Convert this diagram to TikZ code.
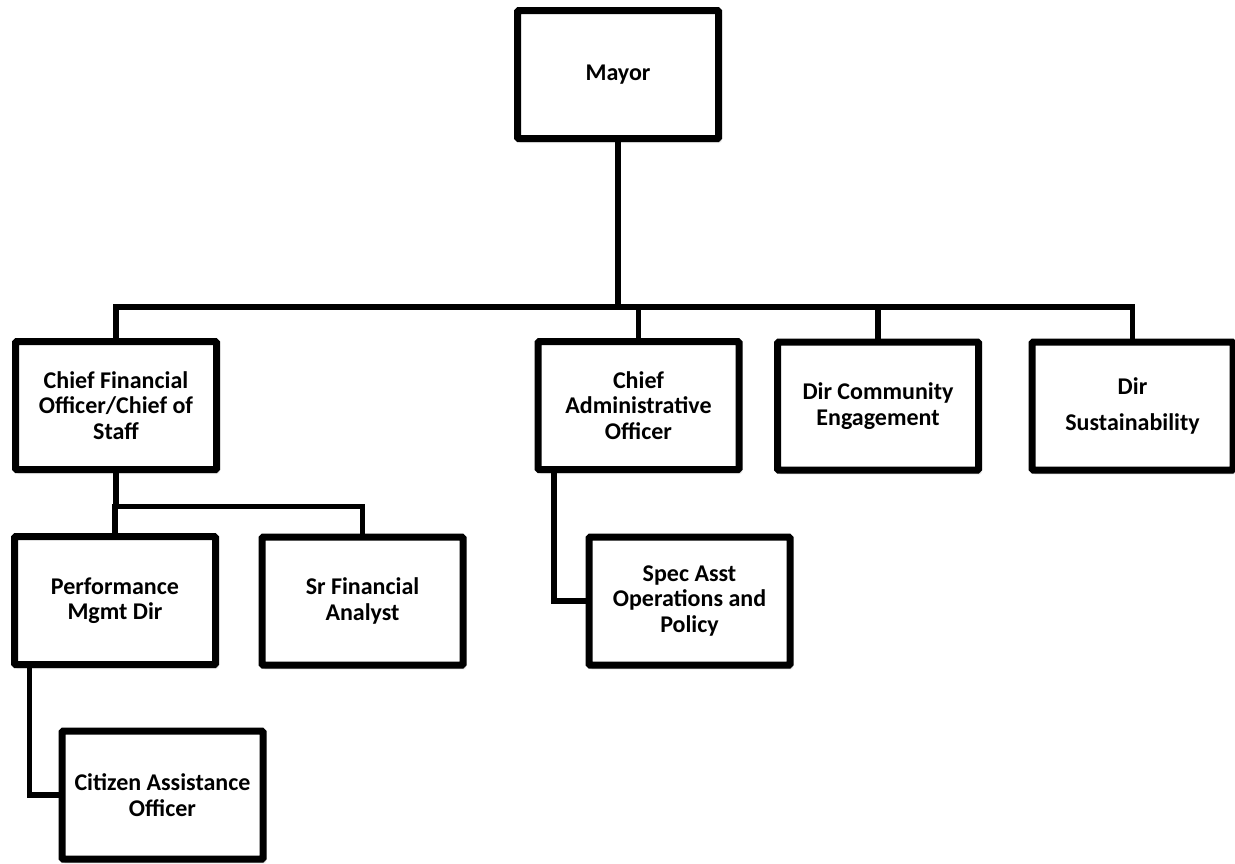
\documentclass[tikz,border=0pt]{standalone}
\usepackage{fontspec}
\setmainfont{Carlito}
\usetikzlibrary{shadows.blur}
\begin{document}
\begin{tikzpicture}[x=1pt,y=-1pt,
  box/.style={draw=black, line width=7pt, fill=white, rounded corners=1.2pt,
    minimum width=201pt, minimum height=128pt, inner sep=0pt,
    align=center, font=\bfseries\fontsize{24}{25.5}\selectfont,
    blur shadow={shadow xshift=2pt, shadow yshift=-3pt, shadow blur steps=6, shadow opacity=35}},
  conn/.style={draw=black, line width=5.5pt}]
\useasboundingbox (0,0) rectangle (1235,863);

\coordinate (bus) at (618,307);

\node[box] (mayor) at (618,74.5) {Mayor};
\node[box] (cfo) at (116,405.5) {Chief Financial\\Officer/Chief of\\Staff};
\node[box] (cao) at (638.5,405.5) {Chief\\Administrative\\Officer};
\node[box] (dce) at (878,406) {Dir Community\\Engagement};
\node[box] (dsu) at (1132.5,406) {Dir\\[11pt]Sustainability};
\node[box] (perf) at (115,600.5) {Performance\\Mgmt Dir};
\node[box] (srfin) at (362.5,601) {Sr Financial\\Analyst};
\node[box] (spec) at (689.5,601) {Spec Asst\\Operations and\\Policy};
\node[box] (cit) at (162.5,795) {Citizen Assistance\\Officer};

\draw[conn] (mayor.south) -- (bus);
\draw[conn] (bus) -| (cfo.north);
\draw[conn] (bus) -| (cao.north);
\draw[conn] (bus) -| (dce.north);
\draw[conn] (bus) -| (dsu.north);
\draw[conn] (cfo.south) -- ++(0,33.5) -| (perf.north);
\draw[conn] (cfo.south) -- ++(0,33.5) -| (srfin.north);
\draw[conn] ([xshift=18.5pt]perf.south west) |- (cit.west);
\draw[conn] ([xshift=19.5pt]cao.south west) |- (spec.west);
\end{tikzpicture}
\end{document}
